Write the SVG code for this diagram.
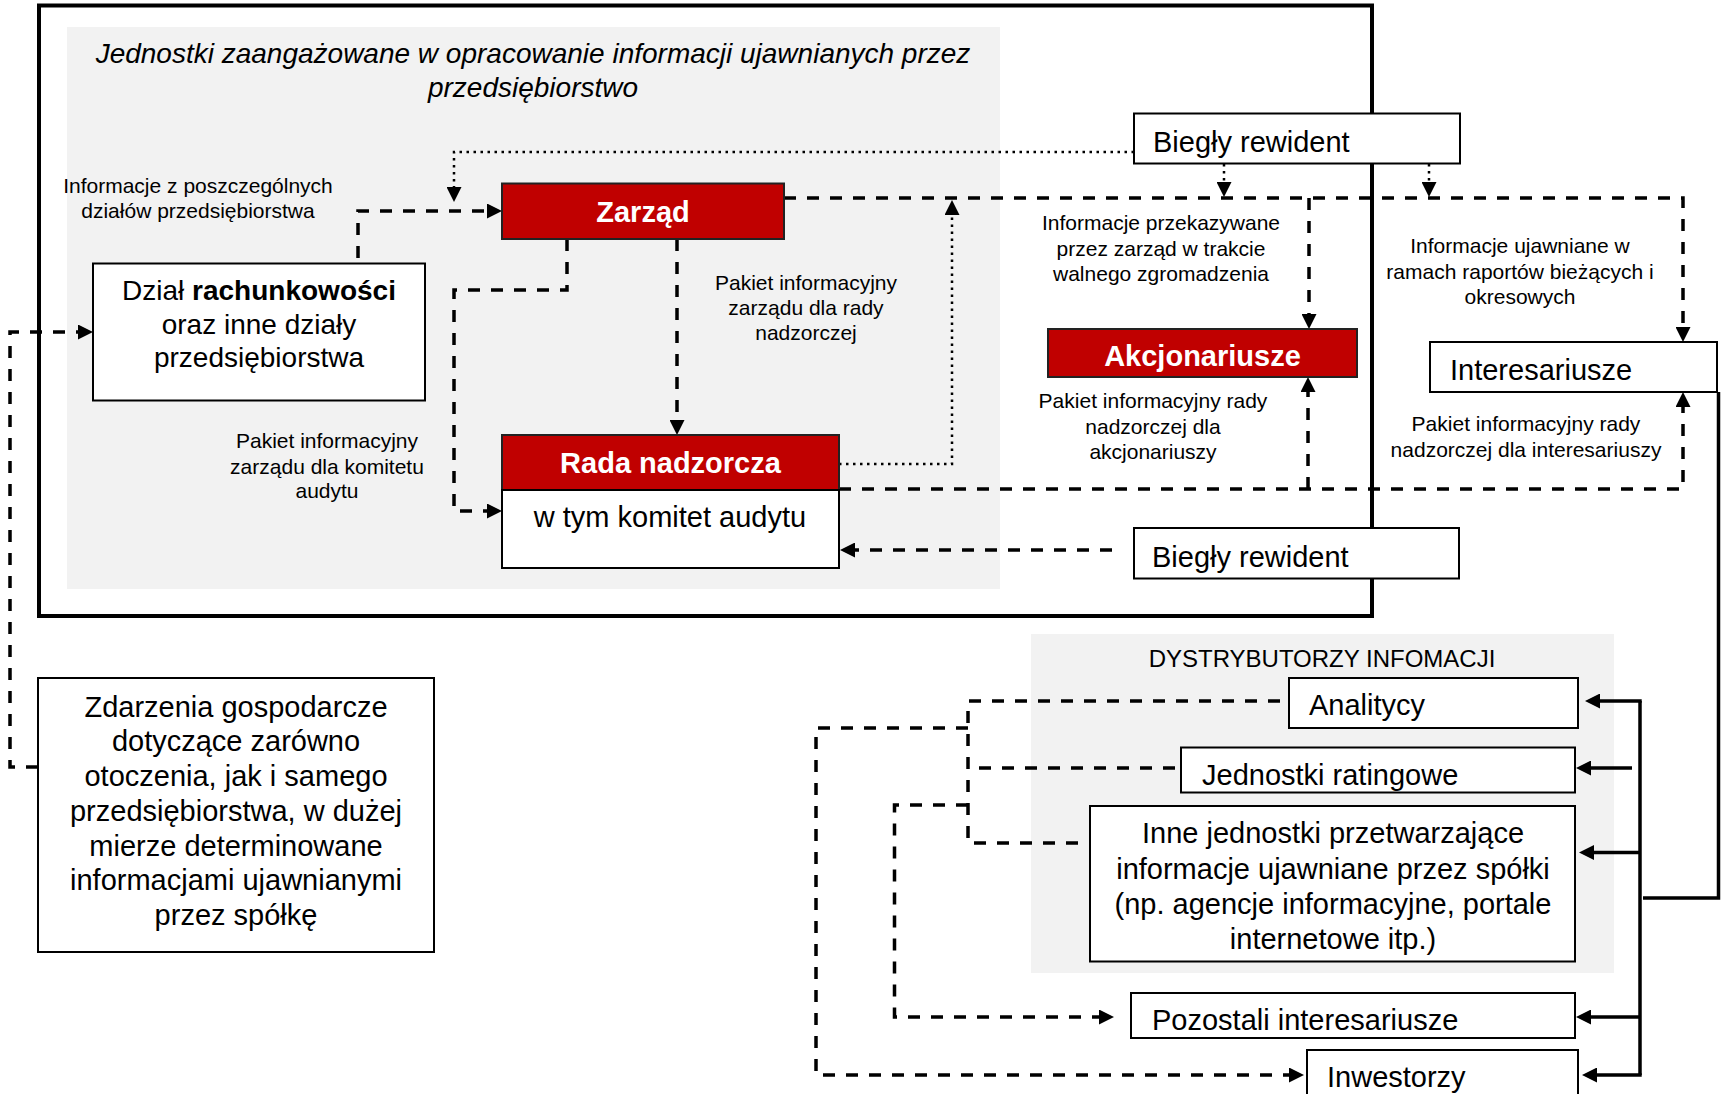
<svg xmlns="http://www.w3.org/2000/svg" width="1724" height="1094" viewBox="0 0 1724 1094">
<style>
text{font-family:"Liberation Sans",Arial,sans-serif;fill:#000}
.big{font-size:29px}
.sm{font-size:21px}
.c{text-anchor:middle}
.bw{font-weight:bold;fill:#fff}
.box{fill:#fff;stroke:#000;stroke-width:2}
.red{fill:#c00000;stroke:#222;stroke-width:2}
.dash{fill:none;stroke:#000;stroke-width:3.5;stroke-dasharray:12 11}
.dot{fill:none;stroke:#000;stroke-width:2.5;stroke-dasharray:2.5 4.5}
.solid{fill:none;stroke:#000;stroke-width:3.5}
</style>
<defs>
<marker id="ah" viewBox="0 0 15 15" refX="9" refY="7.5" markerWidth="15" markerHeight="15" markerUnits="userSpaceOnUse" orient="auto">
<path d="M0,0 L15,7.5 L0,15 z" fill="#000"/>
</marker>
</defs>
<rect x="0" y="0" width="1724" height="1094" fill="#fff"/>
<g id="panels">
<rect x="67" y="27" width="933" height="562" fill="#f2f2f2"/>
<rect x="1031" y="634" width="583" height="339" fill="#f2f2f2"/>
<rect x="39" y="5.5" width="1333" height="610.5" fill="none" stroke="#000" stroke-width="4"/>
</g>
<g id="labels">
<text x="533" y="63" class="c" style="font-size:28px;font-style:italic">Jednostki zaangażowane w opracowanie informacji ujawnianych przez</text>
<text x="533" y="97" class="c" style="font-size:28px;font-style:italic">przedsiębiorstwo</text>
<text x="198" y="193" class="c sm">Informacje z poszczególnych</text>
<text x="198" y="218" class="c sm">działów przedsiębiorstwa</text>
<text x="806" y="290" class="c sm">Pakiet informacyjny</text>
<text x="806" y="315" class="c sm">zarządu dla rady</text>
<text x="806" y="340" class="c sm">nadzorczej</text>
<text x="327" y="448" class="c sm">Pakiet informacyjny</text>
<text x="327" y="473.5" class="c sm">zarządu dla komitetu</text>
<text x="327" y="498" class="c sm">audytu</text>
<text x="1161" y="230" class="c sm">Informacje przekazywane</text>
<text x="1161" y="255.5" class="c sm">przez zarząd w trakcie</text>
<text x="1161" y="281" class="c sm">walnego zgromadzenia</text>
<text x="1520" y="253" class="c sm">Informacje ujawniane w</text>
<text x="1520" y="279" class="c sm">ramach raportów bieżących i</text>
<text x="1520" y="304" class="c sm">okresowych</text>
<text x="1153" y="408" class="c sm">Pakiet informacyjny rady</text>
<text x="1153" y="434" class="c sm">nadzorczej dla</text>
<text x="1153" y="459" class="c sm">akcjonariuszy</text>
<text x="1526" y="431" class="c sm">Pakiet informacyjny rady</text>
<text x="1526" y="457" class="c sm">nadzorczej dla interesariuszy</text>
<text x="1322" y="667" class="c" style="font-size:24px">DYSTRYBUTORZY INFOMACJI</text>
</g>
<g id="connectors">
<path class="dash" d="M358,258 V211 H496" marker-end="url(#ah)"/>
<path class="dot" d="M1134,152 H454 V196" marker-end="url(#ah)"/>
<path class="dash" d="M677,239 V429" marker-end="url(#ah)"/>
<path class="dash" d="M567,239 V290 H454 V511 H496" marker-end="url(#ah)"/>
<path class="dot" d="M839,464 H952 V206" marker-end="url(#ah)"/>
<path class="dash" d="M784,198 H1683 V336" marker-end="url(#ah)"/>
<path class="dash" d="M1309,198 V323" marker-end="url(#ah)"/>
<path class="dot" d="M1224,164 V191" marker-end="url(#ah)"/>
<path class="dot" d="M1429,164 V191" marker-end="url(#ah)"/>
<path class="dash" d="M839,489 H1683 V398" marker-end="url(#ah)"/>
<path class="dash" d="M1308,489 V383" marker-end="url(#ah)"/>
<path class="dash" d="M1112,550 H846" marker-end="url(#ah)"/>
<path class="dash" d="M38,767 H10 V332 H87" marker-end="url(#ah)"/>
<path class="solid" d="M1718.5,392 V898 H1643"/>
<path class="solid" d="M1640,701 V1075"/>
<path class="solid" d="M1641.7,701 H1591" marker-end="url(#ah)"/>
<path class="solid" d="M1632,768 H1582" marker-end="url(#ah)"/>
<path class="solid" d="M1640,852.5 H1585" marker-end="url(#ah)"/>
<path class="solid" d="M1640,1017 H1582" marker-end="url(#ah)"/>
<path class="solid" d="M1641.7,1075 H1588" marker-end="url(#ah)"/>
<path class="dash" d="M1280,701 H968 V843 H1090"/>
<path class="dash" d="M1175,768 H968"/>
<path class="dash" d="M968,728 H816 V1075 H1298" marker-end="url(#ah)"/>
<path class="dash" d="M968,805 H894.5 V1017 H1108" marker-end="url(#ah)"/>
</g>
<g id="zarzad">
<rect x="502" y="183.5" width="282" height="55.5" class="red"/>
<text x="643" y="222" class="big c bw">Zarząd</text>
</g>
<g id="dzial">
<rect x="93" y="263.5" width="332" height="137" class="box"/>
<text x="259" y="300" class="c" style="font-size:28px">Dział <tspan font-weight="bold">rachunkowości</tspan></text>
<text x="259" y="333.5" class="c" style="font-size:28px">oraz inne działy</text>
<text x="259" y="367" class="c" style="font-size:28px">przedsiębiorstwa</text>
</g>
<g id="rada">
<rect x="502" y="435" width="337" height="55" class="red"/>
<rect x="502" y="490" width="337" height="78" class="box"/>
<text x="670.5" y="473" class="big c bw">Rada nadzorcza</text>
<text x="670" y="527" class="big c">w tym komitet audytu</text>
</g>
<g id="bieglyTop">
<rect x="1134" y="113.5" width="326" height="50" class="box"/>
<text x="1153" y="152" class="big">Biegły rewident</text>
</g>
<g id="bieglyBottom">
<rect x="1134" y="528" width="325" height="50.5" class="box"/>
<text x="1152" y="566.5" class="big">Biegły rewident</text>
</g>
<g id="akcjonariusze">
<rect x="1048" y="329" width="309" height="48" class="red"/>
<text x="1202.5" y="366" class="big c bw">Akcjonariusze</text>
</g>
<g id="interesariusze">
<rect x="1430" y="342" width="287" height="50" class="box"/>
<text x="1450" y="380" class="big">Interesariusze</text>
</g>
<g id="zdarzenia">
<rect x="38" y="678" width="396" height="274" class="box"/>
<text x="236" y="716.7" class="big c">Zdarzenia gospodarcze</text>
<text x="236" y="751.4" class="big c">dotyczące zarówno</text>
<text x="236" y="786.1" class="big c">otoczenia, jak i samego</text>
<text x="236" y="820.8" class="big c">przedsiębiorstwa, w dużej</text>
<text x="236" y="855.5" class="big c">mierze determinowane</text>
<text x="236" y="890.2" class="big c">informacjami ujawnianymi</text>
<text x="236" y="924.9" class="big c">przez spółkę</text>
</g>
<g id="analitycy">
<rect x="1289" y="678" width="289" height="50" class="box"/>
<text x="1309" y="715" class="big">Analitycy</text>
</g>
<g id="ratingowe">
<rect x="1181" y="747.5" width="394" height="45" class="box"/>
<text x="1202" y="785" class="big">Jednostki ratingowe</text>
</g>
<g id="inne">
<rect x="1090" y="806" width="485" height="155.5" class="box"/>
<text x="1333" y="843" class="big c">Inne jednostki przetwarzające</text>
<text x="1333" y="878.5" class="big c">informacje ujawniane przez spółki</text>
<text x="1333" y="914" class="big c">(np. agencje informacyjne, portale</text>
<text x="1333" y="949" class="big c">internetowe itp.)</text>
</g>
<g id="pozostali">
<rect x="1131" y="993" width="444" height="45" class="box"/>
<text x="1152" y="1030" class="big">Pozostali interesariusze</text>
</g>
<g id="inwestorzy">
<rect x="1307" y="1050" width="271" height="50" class="box"/>
<text x="1327" y="1087" class="big">Inwestorzy</text>
</g>
</svg>
